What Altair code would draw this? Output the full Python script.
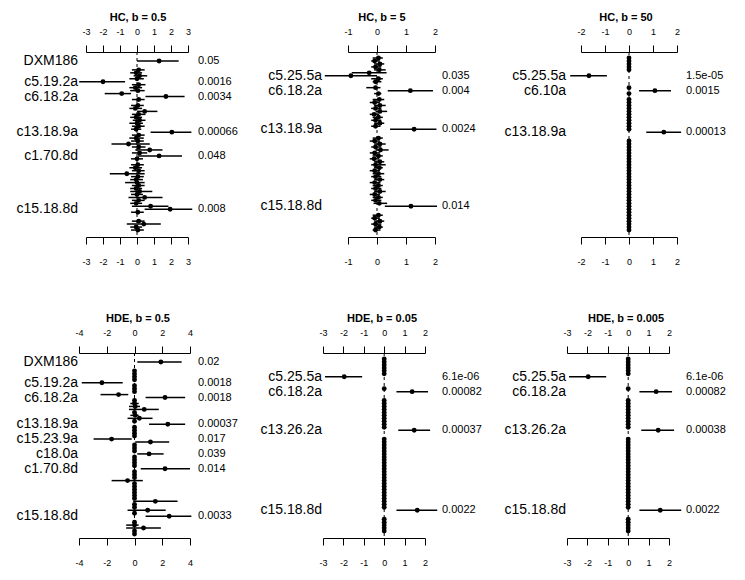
import altair as alt
import pandas as pd

FONT = "Liberation Sans"
ROWS = 60

# ---------------- Panel data (row index 0 = top; None = no marker in that row) -------------
# HC, b = 0.5
hc05_est = [None, 1.3, None, None, 0.1, -0.05, 0.15, 0.0, -2.0, 0.1,
            -0.1, 0.05, -0.9, 1.7, 0.1, None, 0.05, -0.1, 0.45, 0.1,
            -0.05, 0.15, 0.0, 0.1, -0.05, 2.05, 0.1, -0.05, 0.05, -0.5,
            0.1, 0.75, 0.15, 1.3, 0.0, None, 0.05, -0.1, 0.1, -0.6,
            0.05, -0.05, 0.0, 0.1, -0.05, 0.15, 0.0, 0.45, 0.1, -0.05,
            0.8, 1.95, 0.05, None, None, 0.1, 0.4, -0.05, 0.05, None]
hc05_lo = [None, 0.0, None, None, -0.3, -0.4, -0.2, -0.45, -3.4, -0.3,
           -0.45, -0.4, -1.9, 0.5, -0.3, None, -0.35, -0.45, 0.0, -0.3,
           -0.4, -0.25, -0.45, -0.3, -0.35, 0.8, -0.3, -0.45, -0.35, -1.5,
           -0.3, -0.1, -0.3, 0.05, -0.35, None, -0.35, -0.45, -0.3, -1.6,
           -0.35, -0.4, -0.7, -0.3, -0.4, -0.4, -0.35, -0.5, -0.3, -0.4,
           -0.3, 0.45, -0.35, None, None, -0.3, -0.6, -0.4, -0.35, None]
hc05_hi = [None, 2.45, None, None, 0.45, 0.3, 0.6, 0.4, -0.7, 0.5,
           0.3, 0.45, -0.35, 2.8, 0.45, None, 0.4, 0.3, 1.2, 0.5,
           0.3, 0.5, 0.35, 0.45, 0.25, 3.2, 0.45, 0.4, 0.4, 0.75,
           0.5, 1.5, 0.6, 2.65, 0.35, None, 0.4, 0.3, 0.45, 0.45,
           0.4, 0.35, 0.45, 0.45, 0.3, 0.9, 0.35, 1.5, 0.45, 0.3,
           1.85, 3.25, 0.4, None, None, 0.45, 1.4, 0.3, 0.4, None]
hc05_lab_rows = [1, 8, 13, 25, 33, 51]
hc05_names = ["DXM186", "c5.19.2a", "c6.18.2a", "c13.18.9a", "c1.70.8d", "c15.18.8d"]
hc05_pvals = ["0.05", "0.0016", "0.0034", "0.00066", "0.048", "0.008"]

# HC, b = 5
hc5_est = [0.05, -0.08, 0.1, -0.05, 0.08, -0.27, -0.9, 0.05, -0.05, None,
           -0.05, 1.15, 0.05, None, 0.08, -0.08, 0.1, -0.05, 0.1, -0.1,
           0.05, -0.05, 0.1, -0.05, 1.28, None, None, 0.05, -0.08, 0.1,
           -0.05, 0.12, -0.08, 0.05, -0.1, 0.1, -0.05, 0.08, -0.08, 0.05,
           -0.05, 0.1, -0.08, 0.05, -0.05, 0.1, -0.08, 0.05, -0.05, 0.08,
           1.17, None, None, 0.05, -0.08, 0.1, -0.05, 0.08, -0.05, None]
hc5_lo = [-0.15, -0.2, -0.1, -0.2, -0.1, -0.87, -1.8, -0.2, -0.15, None,
          -0.37, 0.37, -0.1, None, -0.15, -0.25, -0.1, -0.2, -0.05, -0.25,
          -0.15, -0.2, -0.1, -0.2, 0.45, None, None, -0.15, -0.25, -0.1,
          -0.2, -0.05, -0.25, -0.15, -0.25, -0.1, -0.2, -0.1, -0.25, -0.15,
          -0.2, -0.1, -0.25, -0.15, -0.2, -0.1, -0.25, -0.15, -0.2, -0.12,
          0.27, None, None, -0.15, -0.2, -0.1, -0.2, -0.1, -0.15, None]
hc5_hi = [0.2, 0.1, 0.25, 0.15, 0.3, 0.33, 0.0, 0.2, 0.15, None,
          0.12, 1.93, 0.15, None, 0.25, 0.1, 0.3, 0.15, 0.35, 0.08,
          0.2, 0.15, 0.25, 0.12, 2.05, None, None, 0.2, 0.1, 0.3,
          0.15, 0.4, 0.1, 0.2, 0.08, 0.25, 0.3, 0.2, 0.1, 0.25,
          0.15, 0.25, 0.12, 0.2, 0.15, 0.3, 0.1, 0.2, 0.15, 0.35,
          2.07, None, None, 0.2, 0.1, 0.25, 0.15, 0.2, 0.12, None]
hc5_lab_rows = [6, 11, 24, 50]
hc5_names = ["c5.25.5a", "c6.18.2a", "c13.18.9a", "c15.18.8d"]
hc5_pvals = ["0.035", "0.004", "0.0024", "0.014"]

# HC, b = 50
hc50_est = [0, 0, 0, 0, 0, None, -1.67, None, None, None,
            0, 1.08, 0, None, 0, 0, 0, 0, 0, 0,
            0, 0, 0, 0, 0, 1.45, None, None, 0, 0,
            0, 0, 0, 0, 0, 0, 0, 0, 0, 0,
            0, 0, 0, 0, 0, 0, 0, 0, 0, 0,
            0, 0, 0, 0, 0, 0, 0, 0, 0, None]
hc50_lo = [0, 0, 0, 0, 0, None, -2.45, None, None, None,
           0, 0.42, 0, None, 0, 0, 0, 0, 0, 0,
           0, 0, 0, 0, 0, 0.72, None, None, 0, 0,
           0, 0, 0, 0, 0, 0, 0, 0, 0, 0,
           0, 0, 0, 0, 0, 0, 0, 0, 0, 0,
           0, 0, 0, 0, 0, 0, 0, 0, 0, None]
hc50_hi = [0, 0, 0, 0, 0, None, -0.92, None, None, None,
           0, 1.75, 0, None, 0, 0, 0, 0, 0, 0,
           0, 0, 0, 0, 0, 2.17, None, None, 0, 0,
           0, 0, 0, 0, 0, 0, 0, 0, 0, 0,
           0, 0, 0, 0, 0, 0, 0, 0, 0, 0,
           0, 0, 0, 0, 0, 0, 0, 0, 0, None]
hc50_lab_rows = [6, 11, 25]
hc50_names = ["c5.25.5a", "c6.10a", "c13.18.9a"]
hc50_pvals = ["1.5e-05", "0.0015", "0.00013"]

# HDE, b = 0.5
hde05_est = [None, 1.9, None, None, 0.0, 0.0, 0.0, 0.0, -2.35, 0.0,
             0.0, 0.0, -1.15, 2.2, 0.0, 0.0, 0.05, 0.7, 0.0, 0.05,
             0.35, 0.0, 2.4, 0.0, 0.0, 0.0, 0.0, -1.65, 1.15, 0.0,
             0.0, 0.0, 1.05, 0.0, 0.0, 0.0, 0.0, 2.2, 0.0, 0.0,
             0.0, -0.5, 0.0, 0.0, 0.0, 0.0, 0.0, 0.0, 1.5, 0.0,
             0.0, 0.95, 0.0, 2.5, None, 0.0, 0.0, 0.65, 0.0, 0.0]
hde05_lo = [None, 0.2, None, None, -0.1, -0.1, -0.12, -0.1, -3.8, -0.1,
            -0.1, -0.1, -2.45, 0.8, -0.1, -0.3, -0.4, -0.4, -0.1, -0.3,
            -0.5, -0.1, 1.05, -0.1, -0.1, -0.12, -0.1, -2.95, 0.05, -0.1,
            -0.1, -0.1, 0.2, -0.1, -0.1, -0.12, -0.1, 0.45, -0.1, -0.1,
            -0.1, -1.65, -0.1, -0.1, -0.1, -0.1, -0.1, -0.12, -0.1, -0.1,
            -0.1, -0.5, -0.1, 0.8, None, -0.1, -0.6, -0.6, -0.1, -0.1]
hde05_hi = [None, 3.4, None, None, 0.1, 0.1, 0.1, 0.1, -0.85, 0.1,
            0.12, 0.1, -0.45, 3.65, 0.1, 0.3, 0.4, 1.75, 0.1, 0.3,
            1.3, 0.1, 3.65, 0.1, 0.1, 0.1, 0.1, -0.2, 2.5, 0.1,
            0.1, 0.12, 2.1, 0.1, 0.1, 0.1, 0.1, 4.0, 0.1, 0.1,
            0.1, 0.6, 0.1, 0.1, 0.12, 0.1, 0.1, 0.1, 3.1, 0.1,
            0.1, 2.25, 0.1, 4.1, None, 0.1, 0.3, 1.9, 0.1, 0.1]
hde05_lab_rows = [1, 8, 13, 22, 27, 32, 37, 53]
hde05_names = ["DXM186", "c5.19.2a", "c6.18.2a", "c13.18.9a", "c15.23.9a",
               "c18.0a", "c1.70.8d", "c15.18.8d"]
hde05_pvals = ["0.02", "0.0018", "0.0018", "0.00037", "0.017", "0.039", "0.014", "0.0033"]

# HDE, b = 0.05
hde005_est = [0, 0, 0, 0, 0, 0, -1.96, None, None, None,
              0, 1.37, None, None, 0, 0, 0, 0, 0, 0,
              0, 0, 0, 0, 1.47, None, None, 0, 0, 0,
              0, 0, 0, 0, 0, 0, 0, 0, 0, 0,
              0, 0, 0, 0, 0, 0, 0, 0, 0, 0,
              0, 1.62, None, None, 0, 0, 0, 0, 0, None]
hde005_lo = [0, 0, 0, 0, 0, 0, -2.9, None, None, None,
             0, 0.6, None, None, 0, 0, 0, 0, 0, 0,
             0, 0, 0, 0, 0.69, None, None, 0, 0, 0,
             0, 0, 0, 0, 0, 0, 0, 0, 0, 0,
             0, 0, 0, 0, 0, 0, 0, 0, 0, 0,
             0, 0.6, None, None, 0, 0, 0, 0, 0, None]
hde005_hi = [0, 0, 0, 0, 0, 0, -1.08, None, None, None,
             0, 2.15, None, None, 0, 0, 0, 0, 0, 0,
             0, 0, 0, 0, 2.25, None, None, 0, 0, 0,
             0, 0, 0, 0, 0, 0, 0, 0, 0, 0,
             0, 0, 0, 0, 0, 0, 0, 0, 0, 0,
             0, 2.6, None, None, 0, 0, 0, 0, 0, None]
hde005_lab_rows = [6, 11, 24, 51]
hde005_names = ["c5.25.5a", "c6.18.2a", "c13.26.2a", "c15.18.8d"]
hde005_pvals = ["6.1e-06", "0.00082", "0.00037", "0.0022"]

# HDE, b = 0.005
hde0005_est = [0, 0, 0, 0, 0, 0, -1.96, None, None, None,
               0, 1.37, None, None, 0, 0, 0, 0, 0, 0,
               0, 0, 0, 0, 1.47, None, None, 0, 0, 0,
               0, 0, 0, 0, 0, 0, 0, 0, 0, 0,
               0, 0, 0, 0, 0, 0, 0, 0, 0, 0,
               0, 1.57, None, None, 0, 0, 0, 0, 0, None]
hde0005_lo = [0, 0, 0, 0, 0, 0, -2.9, None, None, None,
              0, 0.55, None, None, 0, 0, 0, 0, 0, 0,
              0, 0, 0, 0, 0.64, None, None, 0, 0, 0,
              0, 0, 0, 0, 0, 0, 0, 0, 0, 0,
              0, 0, 0, 0, 0, 0, 0, 0, 0, 0,
              0, 0.55, None, None, 0, 0, 0, 0, 0, None]
hde0005_hi = [0, 0, 0, 0, 0, 0, -1.08, None, None, None,
              0, 2.15, None, None, 0, 0, 0, 0, 0, 0,
              0, 0, 0, 0, 2.25, None, None, 0, 0, 0,
              0, 0, 0, 0, 0, 0, 0, 0, 0, 0,
              0, 0, 0, 0, 0, 0, 0, 0, 0, 0,
              0, 2.6, None, None, 0, 0, 0, 0, 0, None]
hde0005_lab_rows = [6, 11, 24, 51]
hde0005_names = ["c5.25.5a", "c6.18.2a", "c13.26.2a", "c15.18.8d"]
hde0005_pvals = ["6.1e-06", "0.00082", "0.00038", "0.0022"]

# tick values of each panel's axes
hc05_ticks = [-3, -2, -1, 0, 1, 2, 3]
hc5_ticks = [-1, 0, 1, 2]
hc50_ticks = [-2, -1, 0, 1, 2]
hde05_ticks = [-4, -2, 0, 2, 4]
hde005_ticks = [-3, -2, -1, 0, 1, 2]
hde0005_ticks = [-3, -2, -1, 0, 1, 2]

# ---------------- layout (pixels) ----------------
W, H = 120, 185
ROW_RANGE = [6, 181]


def panel(title, est, lo, hi, lab_rows, names, pvals, ticks, xrange):
    recs = [{"row": i, "est": e, "lo": l, "hi": h}
            for i, (e, l, h) in enumerate(zip(est, lo, hi)) if e is not None]
    df = pd.DataFrame(recs)
    lab = pd.DataFrame({"row": lab_rows, "name": names, "p": pvals})
    xs = alt.Scale(domain=[ticks[0], ticks[-1]], range=xrange, nice=False, zero=False)
    ys = alt.Scale(domain=[0, ROWS - 1], range=ROW_RANGE, nice=False, zero=False)
    common = dict(values=ticks, labelExpr="'' + datum.value", title=None, grid=False,
                  domainColor="black", tickColor="black", labelColor="black",
                  labelFont=FONT, labelFontSize=9, tickSize=7, domainWidth=1,
                  tickWidth=1, labelFlush=False, labelOverlap=False)
    zero = alt.Chart(pd.DataFrame({"z": [0]})).mark_rule(
        strokeDash=[3, 3], color="black", strokeWidth=1).encode(
        x=alt.X("z:Q", scale=xs, axis=None))
    ci = alt.Chart(df).mark_rule(color="black", strokeWidth=1.5).encode(
        x=alt.X("lo:Q", scale=xs, axis=alt.Axis(orient="bottom", labelPadding=13, **common)),
        x2="hi:Q",
        y=alt.Y("row:Q", scale=ys, axis=None))
    pts = alt.Chart(df).mark_point(filled=True, shape="circle", size=24,
                                   color="black", opacity=1).encode(
        x=alt.X("est:Q", scale=xs, axis=alt.Axis(orient="top", labelPadding=9, **common)),
        y=alt.Y("row:Q", scale=ys, axis=None))
    left = alt.Chart(lab).mark_text(align="right", baseline="middle", font=FONT,
                                    fontSize=14, color="black").encode(
        x=alt.value(0), y=alt.Y("row:Q", scale=ys, axis=None), text="name:N")
    right = alt.Chart(lab).mark_text(align="left", baseline="middle", font=FONT,
                                     fontSize=11, color="black").encode(
        x=alt.value(W), y=alt.Y("row:Q", scale=ys, axis=None), text="p:N")
    return alt.layer(zero, ci, pts, left, right).resolve_axis(x="independent").properties(
        width=W, height=H,
        title=alt.TitleParams(title, font=FONT, fontSize=11, fontWeight="bold",
                              anchor="middle", offset=4, color="black"))


p1 = panel("HC, b = 0.5", hc05_est, hc05_lo, hc05_hi, hc05_lab_rows, hc05_names, hc05_pvals, hc05_ticks, [8, 110])
p2 = panel("HC, b = 5", hc5_est, hc5_lo, hc5_hi, hc5_lab_rows, hc5_names, hc5_pvals, hc5_ticks, [26, 113])
p3 = panel("HC, b = 50", hc50_est, hc50_lo, hc50_hi, hc50_lab_rows, hc50_names, hc50_pvals, hc50_ticks, [15, 111])
p4 = panel("HDE, b = 0.5", hde05_est, hde05_lo, hde05_hi, hde05_lab_rows, hde05_names, hde05_pvals, hde05_ticks, [1, 112])
p5 = panel("HDE, b = 0.05", hde005_est, hde005_lo, hde005_hi, hde005_lab_rows, hde005_names, hde005_pvals, hde005_ticks, [1, 103])
p6 = panel("HDE, b = 0.005", hde0005_est, hde0005_lo, hde0005_hi, hde0005_lab_rows, hde0005_names, hde0005_pvals, hde0005_ticks, [1, 103])

chart = alt.concat(p1, p2, p3, p4, p5, p6, columns=3,
                   spacing={"row": 116, "column": 124}, bounds="flush").properties(
    padding={"left": 8, "top": 4, "right": 5, "bottom": 5},
    background="white",
).configure_view(stroke=None)

chart.save("out.html", embed_options={"renderer": "svg", "actions": False})
